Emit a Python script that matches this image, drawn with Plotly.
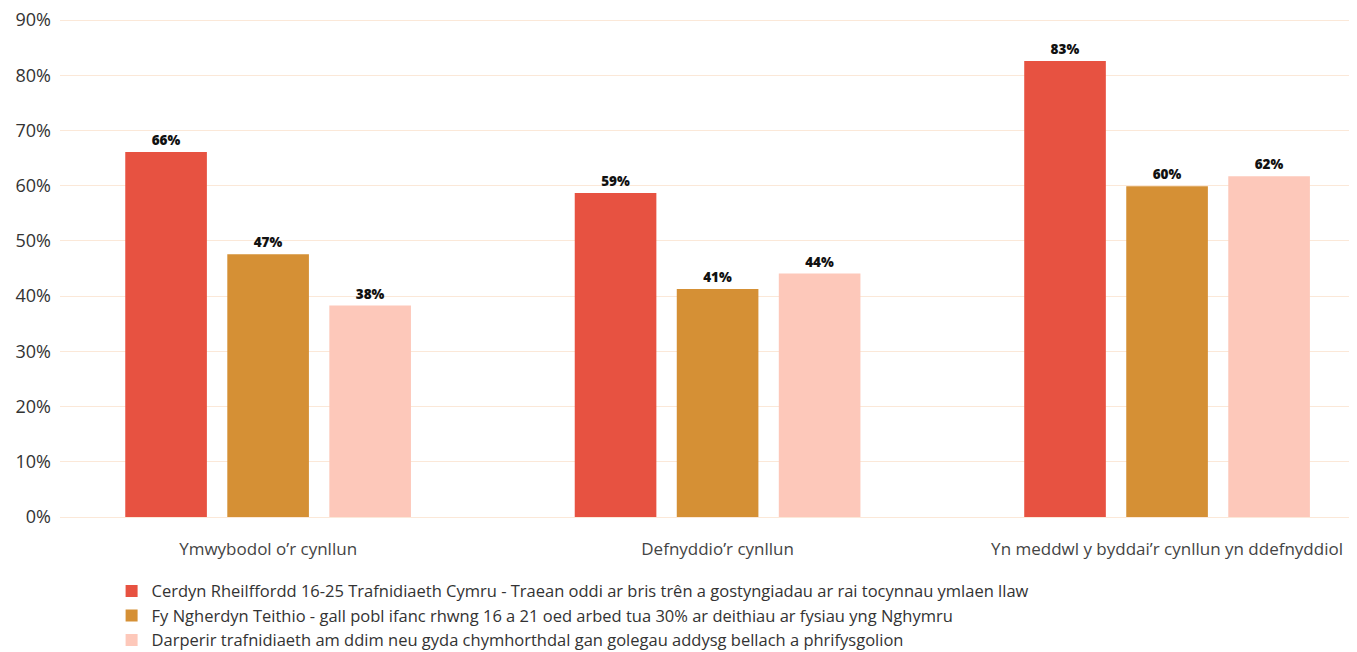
import plotly.graph_objects as go

categories = ["Ymwybodol o’r cynllun", "Defnyddio’r cynllun", "Yn meddwl y byddai’r cynllun yn ddefnyddiol"]
series_names = [
    "Cerdyn Rheilffordd 16-25 Trafnidiaeth Cymru - Traean oddi ar bris trên a gostyngiadau ar rai tocynnau ymlaen llaw",
    "Fy Ngherdyn Teithio - gall pobl ifanc rhwng 16 a 21 oed arbed tua 30% ar deithiau ar fysiau yng Nghymru",
    "Darperir trafnidiaeth am ddim neu gyda chymhorthdal gan golegau addysg bellach a phrifysgolion",
]
rail_card = [66.1, 47.6, 38.3]
rail_card_labels = ["66%", "47%", "38%"]
travel_card = [58.7, 41.3, 44.1]
travel_card_labels = ["59%", "41%", "44%"]
free_transport = [82.6, 59.9, 61.7]
free_transport_labels = ["83%", "60%", "62%"]
tick_vals = [0, 10, 20, 30, 40, 50, 60, 70, 80, 90]
tick_text = ["0%", "10%", "20%", "30%", "40%", "50%", "60%", "70%", "80%", "90%"]

# regroup: each trace is one series across the 3 categories
s1 = [rail_card[0], travel_card[0], free_transport[0]]
s1_labels = [rail_card_labels[0], travel_card_labels[0], free_transport_labels[0]]
s2 = [rail_card[1], travel_card[1], free_transport[1]]
s2_labels = [rail_card_labels[1], travel_card_labels[1], free_transport_labels[1]]
s3 = [rail_card[2], travel_card[2], free_transport[2]]
s3_labels = [rail_card_labels[2], travel_card_labels[2], free_transport_labels[2]]

colors = ["#e75241", "#d59035", "#fdc8ba"]
FONT = "Open Sans"

fig = go.Figure()
for name, vals, labs, col in zip(series_names, [s1, s2, s3], [s1_labels, s2_labels, s3_labels], colors):
    fig.add_trace(go.Bar(
        name=name, x=categories, y=vals, text=labs,
        textposition="outside", cliponaxis=False,
        textfont=dict(family=FONT, size=13.5, color="#111111", weight=800),
        marker=dict(color=col, line=dict(width=0)),
    ))

fig.update_layout(
    barmode="group", bargap=0.319, bargroupgap=0.2,
    width=1349, height=644,
    margin=dict(l=52, r=7, t=11, b=135, autoexpand=False),
    plot_bgcolor="white", paper_bgcolor="white",
    font=dict(family=FONT, color="#333333"),
    showlegend=True,
    legend=dict(orientation="v", x=0.04, xanchor="left", y=-0.114, yanchor="top",
                font=dict(family=FONT, size=16.5, color="#333333"),
                traceorder="normal", itemwidth=30, tracegroupgap=2),
    xaxis=dict(range=[-0.463, 2.407], showgrid=False, showline=False, ticks="",
               tickfont=dict(family=FONT, size=17, color="#444444"), ticklabelstandoff=20),
    yaxis=dict(range=[0, 90.2], tickvals=tick_vals, ticktext=tick_text,
               showgrid=True, gridcolor="#fbe8d8", gridwidth=1,
               zeroline=True, zerolinecolor="#fbe8d8", zerolinewidth=1,
               ticklabeloverflow="allow",
               tickfont=dict(family=FONT, size=18, color="#333333"), ticklabelstandoff=8),
)

fig.write_html("out.html")
